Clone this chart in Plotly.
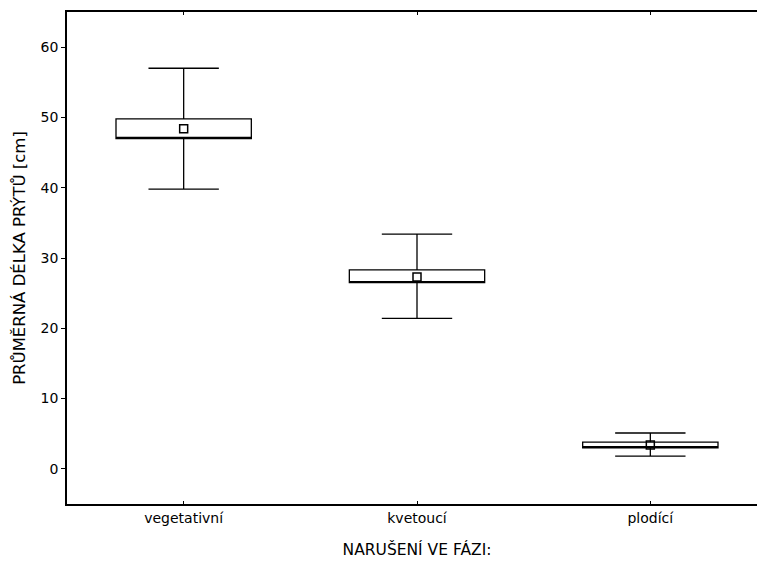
import plotly.graph_objects as go

categories = ["vegetativní", "kvetoucí", "plodící"]
means = [48.4, 27.3, 3.4]
box_low = [47.0, 26.5, 3.0]
box_high = [49.8, 28.3, 3.8]
whisk_low = [39.8, 21.4, 1.8]
whisk_high = [57.0, 33.4, 5.1]

fig = go.Figure()
fig.add_trace(go.Box(
    x=categories,
    q1=box_low, median=box_low, q3=box_high,
    lowerfence=whisk_low, upperfence=whisk_high,
    width=0.58, whiskerwidth=0.52,
    fillcolor="white", line=dict(color="black", width=1.3),
    showlegend=False, hoverinfo="skip",
))
fig.add_trace(go.Scatter(
    x=categories, y=means, mode="markers",
    marker=dict(symbol="square-open", size=8, color="black", line=dict(width=1.5)),
    showlegend=False,
))

font = "DejaVu Sans, Liberation Sans, sans-serif"
fig.update_layout(
    width=767, height=566,
    margin=dict(l=67, r=0, t=12, b=62),
    plot_bgcolor="white", paper_bgcolor="white",
    font=dict(family=font, color="black", size=14),
    xaxis=dict(
        range=[-0.5, 2.5], showline=True, linecolor="black", linewidth=1.5,
        mirror="ticks", ticks="inside", ticklen=3, tickcolor="black",
        showgrid=False, zeroline=False, automargin=False,
        tickfont=dict(size=14),
        title=dict(text="NARUŠENÍ VE FÁZI:", font=dict(size=15.5), standoff=20),
    ),
    yaxis=dict(
        range=[-5, 65], tickvals=[0, 10, 20, 30, 40, 50, 60],
        showline=True, linecolor="black", linewidth=1.5, mirror=False,
        ticks="outside", ticklen=4, tickcolor="black",
        showgrid=False, zeroline=False, automargin=False,
        tickfont=dict(size=14),
        title=dict(text="PRŮMĚRNÁ DÉLKA PRÝTŮ [cm]", font=dict(size=16.5), standoff=11),
    ),
)

fig.write_html(
    "out.html",
    config={"displayModeBar": False},
    post_script="document.body.style.margin='0px';document.body.style.overflow='hidden';",
)
